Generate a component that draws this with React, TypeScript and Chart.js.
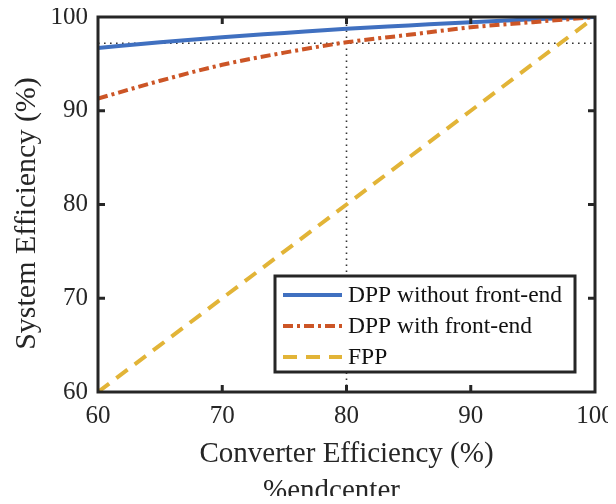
import React, { useEffect, useRef } from 'react';
import { Chart, registerables } from 'chart.js';

Chart.register(...registerables);

// ---- data ----
const converterEff = [60, 65, 70, 75, 80, 85, 90, 95, 100];
const dppWithout = [96.7, 97.3, 97.85, 98.3, 98.75, 99.1, 99.45, 99.75, 100];
const dppWith = [91.3, 93.2, 94.9, 96.2, 97.3, 98.1, 98.9, 99.45, 100];
const fpp = [60, 65, 70, 75, 80, 85, 90, 95, 100];
const refX = 80;
const refY = 97.2;
const axisMin = 60;
const axisMax = 100;
const tickStep = 10;
const seriesLabels = ['DPP without front-end', 'DPP with front-end', 'FPP'];
const xTitle = 'Converter Efficiency (%)';
const yTitle = 'System Efficiency (%)';
const footText = '%endcenter';

// ---- styles ----
const SERIF = "'Liberation Serif', 'Times New Roman', serif";
const TEXT = '#262626';
const BLUE = '#4070C0';
const RED = '#CC5526';
const YELLOW = '#E2B437';
const DASH_RED = [10, 4, 3, 4];
const DASH_YEL = [14, 9];

const framePlugin = {
  id: 'frame',
  afterDatasetsDraw(chart: any) {
    const { ctx, chartArea: a, scales } = chart;
    const xs = scales.x;
    const ys = scales.y;
    ctx.save();
    ctx.strokeStyle = TEXT;
    ctx.lineWidth = 3;
    ctx.setLineDash([]);
    const tl = 7;
    ctx.beginPath();
    for (let v = axisMin + tickStep; v < axisMax; v += tickStep) {
      const px = xs.getPixelForValue(v);
      ctx.moveTo(px, a.bottom);
      ctx.lineTo(px, a.bottom - tl);
      ctx.moveTo(px, a.top);
      ctx.lineTo(px, a.top + tl);
      const py = ys.getPixelForValue(v);
      ctx.moveTo(a.left, py);
      ctx.lineTo(a.left + tl, py);
      ctx.moveTo(a.right, py);
      ctx.lineTo(a.right - tl, py);
    }
    ctx.stroke();
    ctx.strokeRect(a.left, a.top, a.right - a.left, a.bottom - a.top);
    ctx.restore();
  },
  afterDraw(chart: any) {
    const { ctx, chartArea: a } = chart;
    ctx.save();
    // legend box
    const w = 300;
    const h = 96;
    const lx = a.right - 20 - w;
    const ly = a.bottom - 20 - h;
    ctx.fillStyle = '#ffffff';
    ctx.fillRect(lx, ly, w, h);
    ctx.strokeStyle = TEXT;
    ctx.lineWidth = 3;
    ctx.setLineDash([]);
    ctx.strokeRect(lx, ly, w, h);
    const colors = [BLUE, RED, YELLOW];
    const dashes = [[], DASH_RED, DASH_YEL];
    const rows = [19, 50, 81];
    ctx.font = `23.5px ${SERIF}`;
    ctx.textBaseline = 'middle';
    ctx.textAlign = 'left';
    for (let i = 0; i < 3; i++) {
      const y = ly + rows[i];
      ctx.strokeStyle = colors[i];
      ctx.lineWidth = 4;
      ctx.setLineDash(dashes[i]);
      ctx.beginPath();
      ctx.moveTo(lx + 8, y);
      ctx.lineTo(lx + 67, y);
      ctx.stroke();
      ctx.fillStyle = '#111111';
      ctx.fillText(seriesLabels[i], lx + 73, y + 1);
    }
    ctx.setLineDash([]);
    ctx.fillStyle = TEXT;
    ctx.textAlign = 'center';
    // y axis title
    ctx.save();
    ctx.font = `30px ${SERIF}`;
    ctx.translate(27, (a.top + a.bottom) / 2 + 9);
    ctx.rotate(-Math.PI / 2);
    ctx.fillText(yTitle, 0, 0);
    ctx.restore();
    // footer text
    ctx.font = `29px ${SERIF}`;
    ctx.fillText(footText, (a.left + a.right) / 2 - 15, 491);
    ctx.restore();
  },
};

export default function App() {
  const ref = useRef<HTMLCanvasElement | null>(null);

  useEffect(() => {
    if (!ref.current) return;
    const pts = (ys: number[]) => converterEff.map((x, i) => ({ x, y: ys[i] }));
    const chart = new Chart(ref.current, {
      type: 'line',
      data: {
        datasets: [
          {
            label: seriesLabels[2],
            data: pts(fpp),
            borderColor: YELLOW,
            borderWidth: 4,
            borderDash: DASH_YEL,
            pointRadius: 0,
            tension: 0,
            order: 0,
          },
          {
            label: seriesLabels[1],
            data: pts(dppWith),
            borderColor: RED,
            borderWidth: 4,
            borderDash: DASH_RED,
            pointRadius: 0,
            cubicInterpolationMode: 'monotone',
            order: 1,
          },
          {
            label: seriesLabels[0],
            data: pts(dppWithout),
            borderColor: BLUE,
            borderWidth: 4,
            pointRadius: 0,
            cubicInterpolationMode: 'monotone',
            order: 2,
          },
          {
            label: 'refH',
            data: [
              { x: axisMin, y: refY },
              { x: axisMax, y: refY },
            ],
            borderColor: '#333333',
            borderWidth: 1.6,
            borderDash: [1.6, 4.4],
            pointRadius: 0,
            order: 3,
          },
          {
            label: 'refV',
            data: [
              { x: refX, y: axisMin },
              { x: refX, y: axisMax },
            ],
            borderColor: '#333333',
            borderWidth: 1.6,
            borderDash: [1.6, 4.4],
            pointRadius: 0,
            order: 3,
          },
        ],
      },
      options: {
        animation: false,
        responsive: true,
        maintainAspectRatio: false,
        layout: { padding: { top: 17, right: 21, bottom: 0, left: 0 } },
        plugins: {
          legend: { display: false },
          tooltip: { enabled: false },
        },
        scales: {
          x: {
            type: 'linear',
            min: axisMin,
            max: axisMax,
            grid: { display: false, drawTicks: false },
            border: { display: false },
            ticks: {
              stepSize: tickStep,
              padding: 9,
              color: TEXT,
              font: { family: SERIF, size: 25 },
              maxRotation: 0,
            },
            title: {
              display: true,
              text: xTitle,
              color: TEXT,
              font: { family: SERIF, size: 29 },
              padding: { top: 0, bottom: 32 },
            },
            afterFit: (s: any) => {
              s.height = 112;
              s.paddingLeft = 0;
              s.paddingRight = 0;
            },
          },
          y: {
            type: 'linear',
            min: axisMin,
            max: axisMax,
            grid: { display: false, drawTicks: false },
            border: { display: false },
            ticks: {
              stepSize: tickStep,
              padding: 10,
              color: TEXT,
              font: { family: SERIF, size: 25 },
            },
            afterFit: (s: any) => {
              s.width = 98;
              s.paddingTop = 0;
              s.paddingBottom = 0;
            },
          },
        },
      },
      plugins: [framePlugin],
    } as any);
    return () => chart.destroy();
  }, []);

  return (
    <div style={{ position: 'relative', width: 616, height: 504, margin: -8 }}>
      <canvas ref={ref} />
    </div>
  );
}
